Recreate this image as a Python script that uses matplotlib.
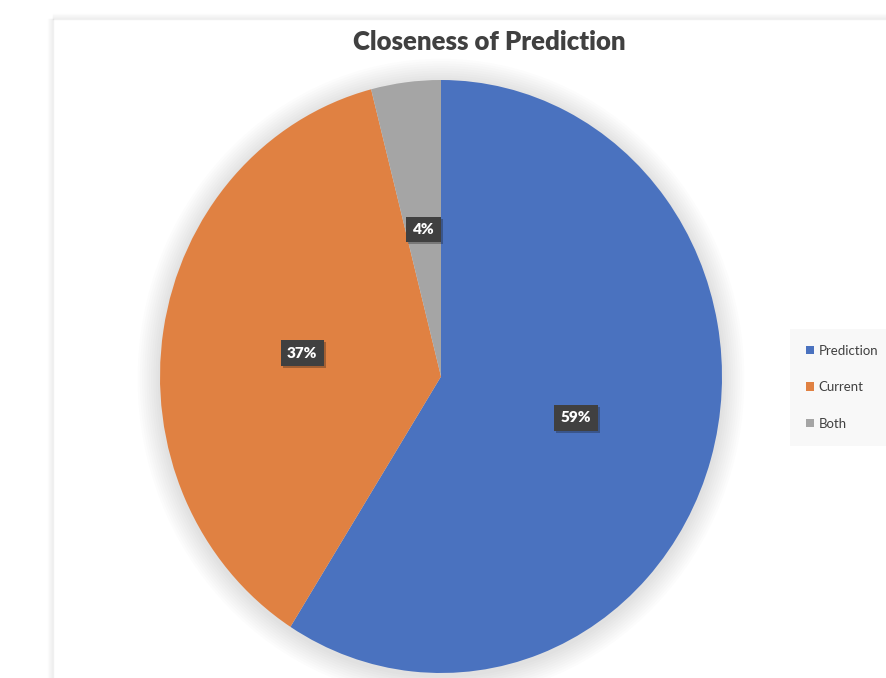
import matplotlib.pyplot as plt
from matplotlib.patches import Ellipse
from matplotlib.lines import Line2D
import matplotlib.patheffects as pe

plt.rcParams['font.family'] = ['Lato', 'DejaVu Sans']

# data
labels = ['Prediction', 'Current', 'Both']
values = [59, 37, 4]
colors = ['#4A72BF', '#E08142', '#A5A5A5']
title = 'Closeness of Prediction'

fig = plt.figure(figsize=(8.87, 6.78), dpi=100)
fig.patch.set_facecolor('white')

# chart panel edge + soft shadow (screenshot look)
px_l = 53 / 887
px_t = 1 - 19 / 678
for i in range(6):
    a = 0.10 - i * 0.016
    fig.add_artist(Line2D([px_l - i / 887, px_l - i / 887], [0, px_t], color='#808080',
                          alpha=a, lw=1, transform=fig.transFigure))
    fig.add_artist(Line2D([px_l, 1], [px_t + i / 678, px_t + i / 678], color='#808080',
                          alpha=a, lw=1, transform=fig.transFigure))

# pie axes (slightly taller than wide, like the reference)
ax = fig.add_axes([160 / 887, 5 / 678, 562 / 887, 593 / 678])

# soft shadow under the pie
for i in range(10):
    s = 1 + 0.008 * (i + 1)
    ax.add_patch(Ellipse((0.0, -0.008), 2 * s, 2 * s, facecolor='#000000',
                         alpha=0.012, edgecolor='none', zorder=0, clip_on=False))

wedges, texts, autotexts = ax.pie(values, colors=colors, startangle=90, counterclock=False,
                                  autopct='%1.0f%%', pctdistance=0.5,
                                  wedgeprops=dict(edgecolor='none'),
                                  textprops=dict(color='white', fontsize=11, fontweight='heavy'))
for t in autotexts:
    t.set_zorder(5)
    t.set_bbox(dict(boxstyle='square,pad=0.42', facecolor='#404040', edgecolor='none'))
    t.get_bbox_patch().set_path_effects([pe.SimplePatchShadow(offset=(1.5, -1.5), alpha=0.3),
                                         pe.Normal()])
ax.set_aspect('auto')
ax.set_xlim(-1, 1)
ax.set_ylim(-1, 1)
ax.axis('off')

fig.text(489 / 887, 1 - 42 / 678, title, ha='center', va='center', fontsize=18.5,
         fontweight='heavy', color='#404040')

leg = fig.legend(wedges, labels, loc='upper left', bbox_to_anchor=(794 / 887, 1 - 333 / 678),
                 frameon=True, fontsize=9.5, labelspacing=1.85, handlelength=0.6,
                 handleheight=0.6, handletextpad=0.35, borderpad=0.9, borderaxespad=0)
leg.get_frame().set_facecolor('#F7F7F7')
leg.get_frame().set_edgecolor('none')
leg.get_frame().set_boxstyle('square')
for t in leg.get_texts():
    t.set_color('#404040')

fig.savefig('out.png', dpi=100, facecolor='white')
